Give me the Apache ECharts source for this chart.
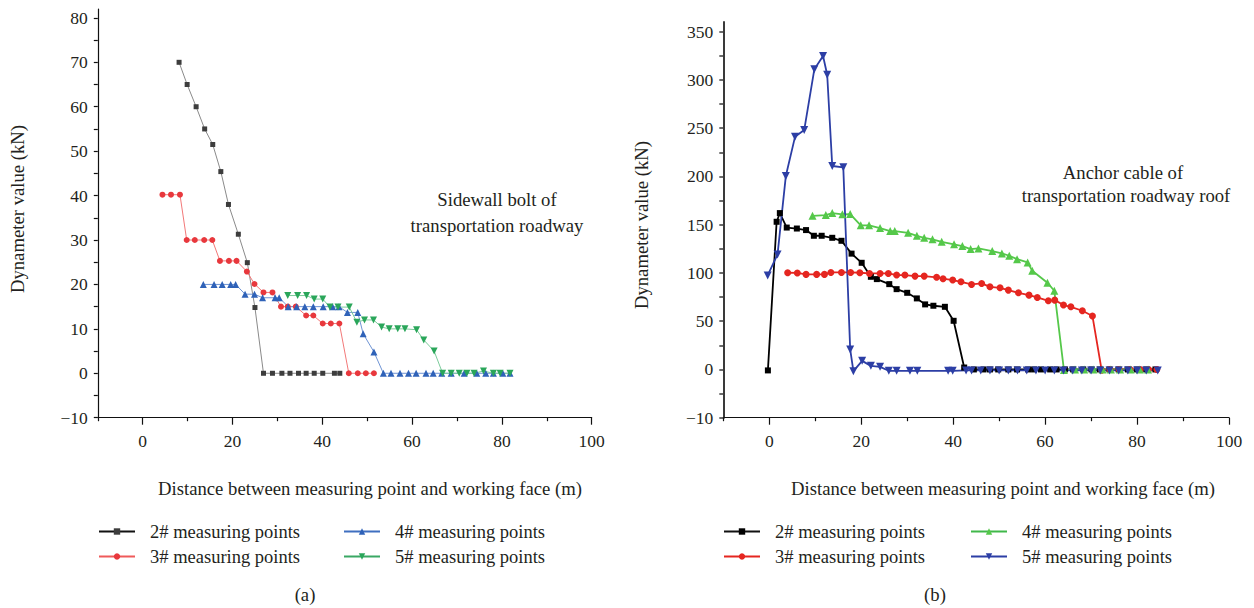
<!DOCTYPE html>
<html>
<head>
<meta charset="utf-8">
<script src="https://cdn.jsdelivr.net/npm/echarts@6/dist/echarts.min.js"></script>
<style>
html,body{margin:0;padding:0;background:#fff;}
#c{width:1254px;height:608px;}
</style>
</head>
<body>
<div id="c"></div>
<script>
// ---------- Data: (a) Sidewall bolt of transportation roadway ----------
const a2x = [8.1, 9.9, 11.9, 13.8, 15.6, 17.4, 19.1, 21.3, 23.3, 25.0, 26.9, 28.9, 31.0, 32.8, 34.7, 36.4, 38.2, 40.1, 42.7, 43.9];
const a2y = [70, 65, 60, 55, 51.5, 45.4, 38, 31.3, 24.9, 14.8, 0, 0, 0, 0, 0, 0, 0, 0, 0, 0];
const a3x = [4.4, 6.3, 8.3, 9.8, 11.6, 13.7, 15.5, 17.2, 19.2, 20.9, 23.2, 24.9, 26.9, 28.9, 30.8, 32.3, 34.1, 36.4, 38.0, 40.1, 41.9, 43.8, 45.9, 47.9, 49.7, 51.5];
const a3y = [40.2, 40.2, 40.2, 30, 30, 30, 30, 25.3, 25.3, 25.3, 22.9, 20.1, 18.2, 18.2, 15, 15, 15, 13, 13, 11.2, 11.2, 11.2, 0, 0, 0, 0];
const a4x = [13.5, 15.9, 17.7, 19.6, 20.7, 22.8, 24.9, 26.7, 29.5, 30.4, 32.4, 34.3, 36.1, 38.0, 40.2, 42.3, 43.7, 45.6, 47.9, 49.1, 51.5, 53.6, 55.3, 57.3, 59.2, 60.9, 63.1, 64.7, 66.6, 68.7, 71.6, 74.4, 76.4, 78.1, 80.2, 81.8];
const a4y = [20, 20, 20, 20, 20, 17.8, 17.8, 17, 17, 17, 15, 15, 15, 15, 15, 15, 15, 13.7, 13.7, 8.9, 4.8, 0, 0, 0, 0, 0, 0, 0, 0, 0, 0, 0, 0, 0, 0, 0];
const a5x = [32.3, 34.5, 36.5, 38.2, 40.1, 41.7, 43.5, 46.0, 47.7, 49.4, 51.4, 53.2, 54.9, 56.8, 58.4, 61.0, 62.6, 64.9, 66.8, 68.7, 70.5, 72.2, 73.8, 75.9, 78.1, 79.6, 81.8];
const a5y = [17.5, 17.5, 17.5, 16.7, 16.7, 14.9, 14.9, 14.9, 11.5, 12, 12, 10.4, 10, 10, 10, 9.8, 7.5, 5, 0, 0, 0, 0, 0, 0.5, 0, 0, 0];

// ---------- Data: (b) Anchor cable of transportation roadway roof ----------
const b2x = [-0.3, 1.6, 2.3, 3.8, 6.0, 8.0, 9.7, 11.4, 13.7, 15.7, 17.9, 20.1, 22.1, 23.4, 26.1, 27.7, 30.0, 32.1, 33.9, 35.7, 38.2, 40.1, 42.4, 44.5, 46.6, 48.0, 49.8, 52.0, 53.9, 56.3, 57.6, 59.1, 61.1, 62.5, 64.3, 66.1, 68.3, 70.1, 71.9, 74, 76, 78, 80, 82, 84];
const b2y = [-1, 153, 162, 147, 146, 144.4, 138.5, 138.5, 136.4, 133.3, 120, 110.5, 96, 93.6, 88.4, 83.2, 79.4, 73.6, 67.4, 66, 64.9, 50.4, 2, 0, 0, 0, 0, 0, 0, 0, 0, 0, 0, 0, 0, 0, 0, 0, 0, 0, 0, 0, 0, 0, 0];
const b3x = [4.0, 6.1, 8.0, 10.3, 12.0, 13.4, 15.7, 17.7, 19.7, 21.8, 24.1, 25.9, 27.7, 29.5, 31.7, 33.7, 36.4, 37.8, 39.9, 41.7, 44.0, 46.2, 48.0, 50.2, 52.0, 54.2, 56.5, 58.3, 60.7, 62.1, 64.0, 65.6, 68.1, 70.3, 72.3, 74.1, 76.1, 78.5, 80.7, 82.5, 84.3];
const b3y = [100.2, 100, 98.5, 98.5, 98.5, 100.5, 100.5, 100.5, 100.2, 99.5, 99.5, 99.5, 97.8, 97.8, 96.7, 96.7, 95.5, 94, 92.6, 90.8, 88.1, 89.1, 85.6, 84.6, 82.2, 79.4, 77, 74.6, 71.1, 71.8, 66.7, 64.9, 60.8, 55.3, -0.7, 0, 0, 0, 0, 0, 0];
const b4x = [9.4, 12.3, 13.7, 15.9, 17.6, 19.9, 21.7, 24.1, 26.3, 27.3, 30.2, 32.1, 33.7, 35.5, 37.5, 40.2, 42.0, 43.8, 45.5, 48.5, 50.6, 52.2, 53.9, 56.2, 57.2, 60.5, 62.0, 64.1, 66.5, 68.5, 70.5, 72.5, 74.3, 76.3, 78.6, 80.6, 82.4];
const b4y = [159.2, 160, 162, 160.7, 161, 149.3, 149.3, 146.5, 143.4, 143.4, 141.6, 138.5, 136.4, 134.8, 132.3, 129.6, 127.8, 124.7, 125.4, 122.6, 120.2, 117.8, 114.3, 110.9, 102.2, 89.8, 81.5, -0.7, 0, 0, 0, 0, 0, 0, 0, 0, 0];
const b5x = [-0.35, 1.8, 3.6, 5.6, 7.6, 9.8, 11.7, 12.6, 13.7, 16.1, 17.6, 18.3, 20.2, 22.1, 24.1, 26.0, 27.7, 30.6, 32.2, 38.9, 39.9, 42.8, 44.0, 46, 48, 50, 52, 54, 56, 58, 60, 62, 64, 66, 68, 70, 72, 74, 76, 78, 80, 82, 84.5];
const b5y = [97.4, 119.2, 200.4, 241, 248, 311, 324.8, 305.4, 210.8, 209.4, 20.7, -1.8, 8.9, 3.7, 2.7, -1.4, -1.4, -1.4, -1.4, -1.4, -1.4, -1, -1, -1, -1, -1, -1, -1, -1, -1, -1, -1, -1, -1, -1, -1, -1, -1, -1, -1, -1, -1, -1];

// ---------- Axis tick / label values ----------
const xMajorTicks = [0, 20, 40, 60, 80, 100];
const xMinorTicks = [-10, 10, 30, 50, 70, 90];
const aYTicks = [-10, -5, 0, 5, 10, 15, 20, 25, 30, 35, 40, 45, 50, 55, 60, 65, 70, 75, 80];
const aYLabels = [-10, 0, 10, 20, 30, 40, 50, 60, 70, 80];
const bYTicks = [-50, -25, 0, 25, 50, 75, 100, 125, 150, 175, 200, 225, 250, 275, 300, 325, 350];
const bYLabels = [-50, 0, 50, 100, 150, 200, 250, 300, 350];

const legendNames = {
  a2: '2# measuring points', a3: '3# measuring points', a4: '4# measuring points', a5: '5# measuring points',
  b2: '2# measuring points', b3: '3# measuring points', b4: '4# measuring points', b5: '5# measuring points'
};

const zip = (xs, ys) => xs.map((x, i) => [x, ys[i]]);
const FONT = 'Liberation Serif';
const TXT = '#231f20';

function lineAxisX(gridIndex, min, max, main) {
  return {
    type: 'value', gridIndex, min, max, position: 'bottom',
    axisLine: { show: main, onZero: false, lineStyle: { color: '#111', width: 1.2 } },
    axisTick: { show: true, length: main ? 7 : 3.5, customValues: main ? xMajorTicks : xMinorTicks,
                lineStyle: { color: '#111', width: 1.2 } },
    axisLabel: { show: main, customValues: xMajorTicks, margin: 14,
                 fontFamily: FONT, fontSize: 17.5, color: TXT },
    splitLine: { show: false }
  };
}

function mkSeries(name, xs, ys, xi, yi, symbol, size, mColor, lColor, lw, rotate) {
  return {
    name, type: 'line', xAxisIndex: xi, yAxisIndex: yi,
    data: zip(xs, ys), symbol, symbolSize: size, symbolRotate: rotate || 0,
    showSymbol: true, animation: false,
    itemStyle: { color: mColor, borderWidth: 0 },
    lineStyle: { color: lColor, width: lw }
  };
}

function legendAt(name, left, top, lineColor) {
  return {
    data: [{ name, lineStyle: { color: lineColor } }], left, top, orient: 'horizontal',
    padding: 0, itemWidth: 36, itemHeight: 8, selectedMode: false,
    formatter: n => legendNames[n],
    textStyle: { fontFamily: FONT, fontSize: 18.5, color: TXT, padding: [0, 0, 0, 10] }
  };
}

function txt(x, y, text, rot) {
  return {
    type: 'text', x, y, rotation: rot || 0, silent: true,
    style: { x: 0, y: 0, text, font: '18.7px "' + FONT + '"', fill: TXT,
             textAlign: 'center', textVerticalAlign: 'middle', align: 'center', verticalAlign: 'middle' }
  };
}

const chart = echarts.init(document.getElementById('c'), null, { renderer: 'svg' });

const option = {
  backgroundColor: '#fff',
  animation: false,
  grid: [
    { left: 97.8, top: 9, width: 493.9, height: 408.7 },
    { left: 723.3, top: 22, width: 505.7, height: 395.7 }
  ],
  xAxis: [
    lineAxisX(0, -10, 100, true),
    lineAxisX(0, -10, 100, false),
    lineAxisX(1, -10, 100, true),
    lineAxisX(1, -10, 100, false)
  ],
  yAxis: [
    {
      type: 'value', gridIndex: 0, min: -10, max: 82,
      axisLine: { show: true, onZero: false, lineStyle: { color: '#111', width: 1.2 } },
      axisTick: { show: true, length: 4, customValues: aYTicks, lineStyle: { color: '#111', width: 1.2 } },
      axisLabel: { customValues: aYLabels, margin: 10, fontFamily: FONT, fontSize: 17.5, color: TXT,
                   formatter: v => (v < 0 ? '\u2212' + Math.abs(v) : String(v)) },
      splitLine: { show: false }
    },
    {
      type: 'value', gridIndex: 1, min: -50, max: 360,
      axisLine: { show: true, onZero: false, lineStyle: { color: '#3a3a3a', width: 2 } },
      axisTick: { show: true, length: 4, customValues: bYTicks, lineStyle: { color: '#3a3a3a', width: 1.5 } },
      axisLabel: { customValues: bYLabels, margin: 10, fontFamily: FONT, fontSize: 17.5, color: TXT,
                   formatter: v => (v < 0 ? '\u221210' : String(v)) },
      splitLine: { show: false }
    }
  ],
  legend: [
    legendAt('a2', 98, 522, '#111'),
    legendAt('a3', 98, 547, '#ef5a5a'),
    legendAt('a4', 343, 522, '#3f6fc0'),
    legendAt('a5', 343, 547, '#3aa864'),
    legendAt('b2', 723, 522, '#111'),
    legendAt('b3', 723, 547, '#e52620'),
    legendAt('b4', 970, 522, '#40b84a'),
    legendAt('b5', 970, 547, '#2c3ea5')
  ],
  series: [
    mkSeries('a2', a2x, a2y, 0, 0, 'rect', 5, '#3d3d3d', '#8a8a8a', 1),
    mkSeries('a3', a3x, a3y, 0, 0, 'circle', 6, '#e8383d', '#f27878', 1),
    mkSeries('a4', a4x, a4y, 0, 0, 'triangle', 7, '#2f62b8', '#6f94d4', 1),
    mkSeries('a5', a5x, a5y, 0, 0, 'triangle', 7, '#2aa65a', '#7ccb9b', 1, 180),
    mkSeries('b2', b2x, b2y, 2, 1, 'rect', 6, '#000', '#000', 1.8),
    mkSeries('b3', b3x, b3y, 2, 1, 'circle', 7, '#e52620', '#e52620', 1.8),
    mkSeries('b4', b4x, b4y, 2, 1, 'triangle', 8, '#55c84a', '#55c84a', 1.8),
    mkSeries('b5', b5x, b5y, 2, 1, 'triangle', 8, '#2c3ea5', '#2c3ea5', 1.8, 180)
  ],
  graphic: [
    txt(497, 199, 'Sidewall bolt of'),
    txt(497, 225, 'transportation roadway'),
    txt(1123, 172, 'Anchor cable of'),
    txt(1126, 195, 'transportation roadway roof'),
    txt(370, 488, 'Distance between measuring point and working face (m)'),
    txt(1003, 488, 'Distance between measuring point and working face (m)'),
    txt(17, 209, 'Dynameter value (kN)', Math.PI / 2),
    txt(641, 225, 'Dynameter value (kN)', Math.PI / 2),
    txt(305, 594, '(a)'),
    txt(935, 594, '(b)')
  ]
};

chart.setOption(option);
</script>
</body>
</html>
